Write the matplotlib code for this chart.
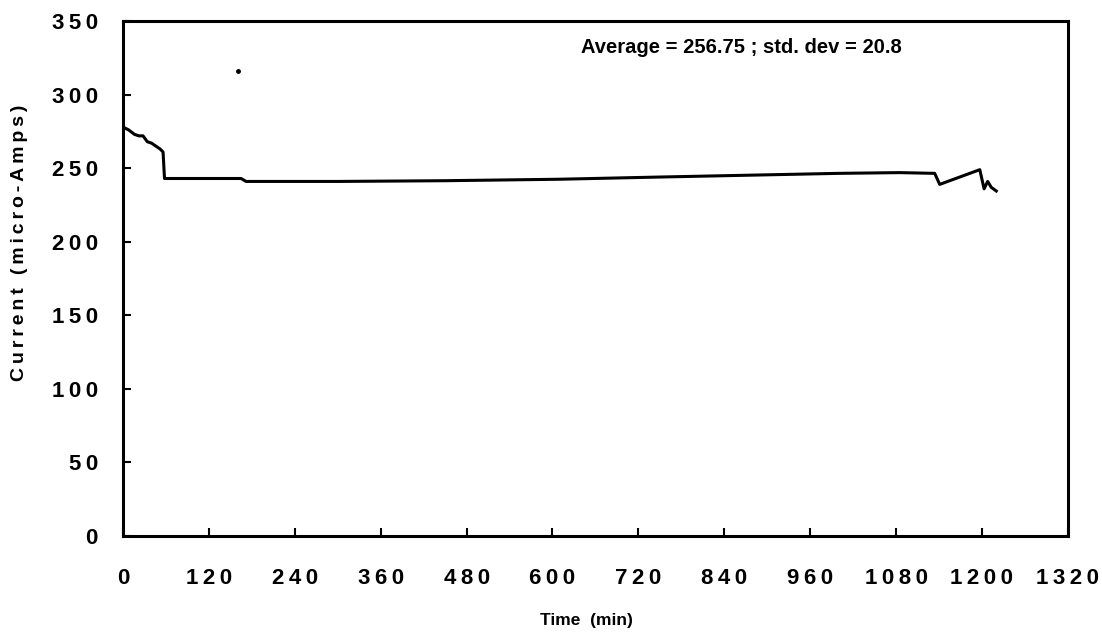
"""Current vs time trace, recreated from a scanned figure."""

import matplotlib
matplotlib.use("Agg")
import matplotlib.pyplot as plt

# -- data ---------------------------------------------------------------------
TIME_MIN = [0, 8, 16, 22, 28, 34, 40, 46, 52, 56, 58, 60, 100, 165, 172,
            300, 450, 610, 750, 900, 1000, 1085, 1134, 1141, 1197, 1203,
            1208, 1213, 1220]
CURRENT_UA = [278, 276, 273, 272, 272, 268, 267, 265, 263, 261, 243, 243,
              243, 243, 241, 241, 241.5, 242.5, 244, 245.5, 246.5, 247,
              246.5, 239, 249, 236, 241, 237, 234.5]

SPECK_T = [160]
SPECK_Y = [316]

X_TICKS = list(range(0, 1321, 120))
Y_TICKS = list(range(0, 351, 50))

ANNOTATION = "Average = 256.75 ; std. dev = 20.8"
X_LABEL = "Time  (min)"
Y_LABEL = "Current (micro-Amps)"

FONT = ["Liberation Sans", "DejaVu Sans"]
THIN = "\u2009"


def spaced(text: str, sep: str) -> str:
    """Mimic the wide letter spacing of the old plotting software."""
    return sep.join(text)


def main() -> None:
    plt.rcParams.update({
        "font.family": FONT,
        "font.weight": "bold",
        "font.size": 15,
    })

    fig = plt.figure(figsize=(11.02, 6.39), dpi=100)
    ax = fig.add_axes([0.1116, 0.1612, 0.969 - 0.1116, 0.967 - 0.1612])

    ax.plot(TIME_MIN, CURRENT_UA, color="black", linewidth=2.2,
            solid_joinstyle="round")
    ax.plot(SPECK_T, SPECK_Y, "o", color="black", markersize=2.5)

    ax.text(864, 332, ANNOTATION, ha="center", va="center",
            fontsize=14.5, fontweight="bold")

    ax.set_xlim(0, 1320)
    ax.set_ylim(0, 350)
    ax.set_xticks(X_TICKS)
    ax.set_yticks(Y_TICKS)
    ax.set_xticklabels([spaced(str(v), THIN) for v in X_TICKS],
                       fontsize=16, fontweight="bold")
    ax.set_yticklabels([spaced(str(v), THIN) for v in Y_TICKS],
                       fontsize=16, fontweight="bold")
    ax.tick_params(direction="in", length=6, width=1.5)
    ax.tick_params(axis="y", pad=18)
    ax.tick_params(axis="x", pad=23)

    for spine in ax.spines.values():
        spine.set_linewidth(2.2)

    ax.set_xlabel(X_LABEL, fontsize=12.5, fontweight="bold", labelpad=17)
    ax.set_ylabel(spaced(Y_LABEL, THIN), fontsize=14, fontweight="bold",
                  labelpad=17)
    # the scanned labels sit a little off the axis centre
    ax.xaxis.label.set_x(0.49)
    ax.yaxis.label.set_y(0.57)

    fig.savefig("out.png", dpi=100, facecolor="white")
    plt.close(fig)


if __name__ == "__main__":
    main()
